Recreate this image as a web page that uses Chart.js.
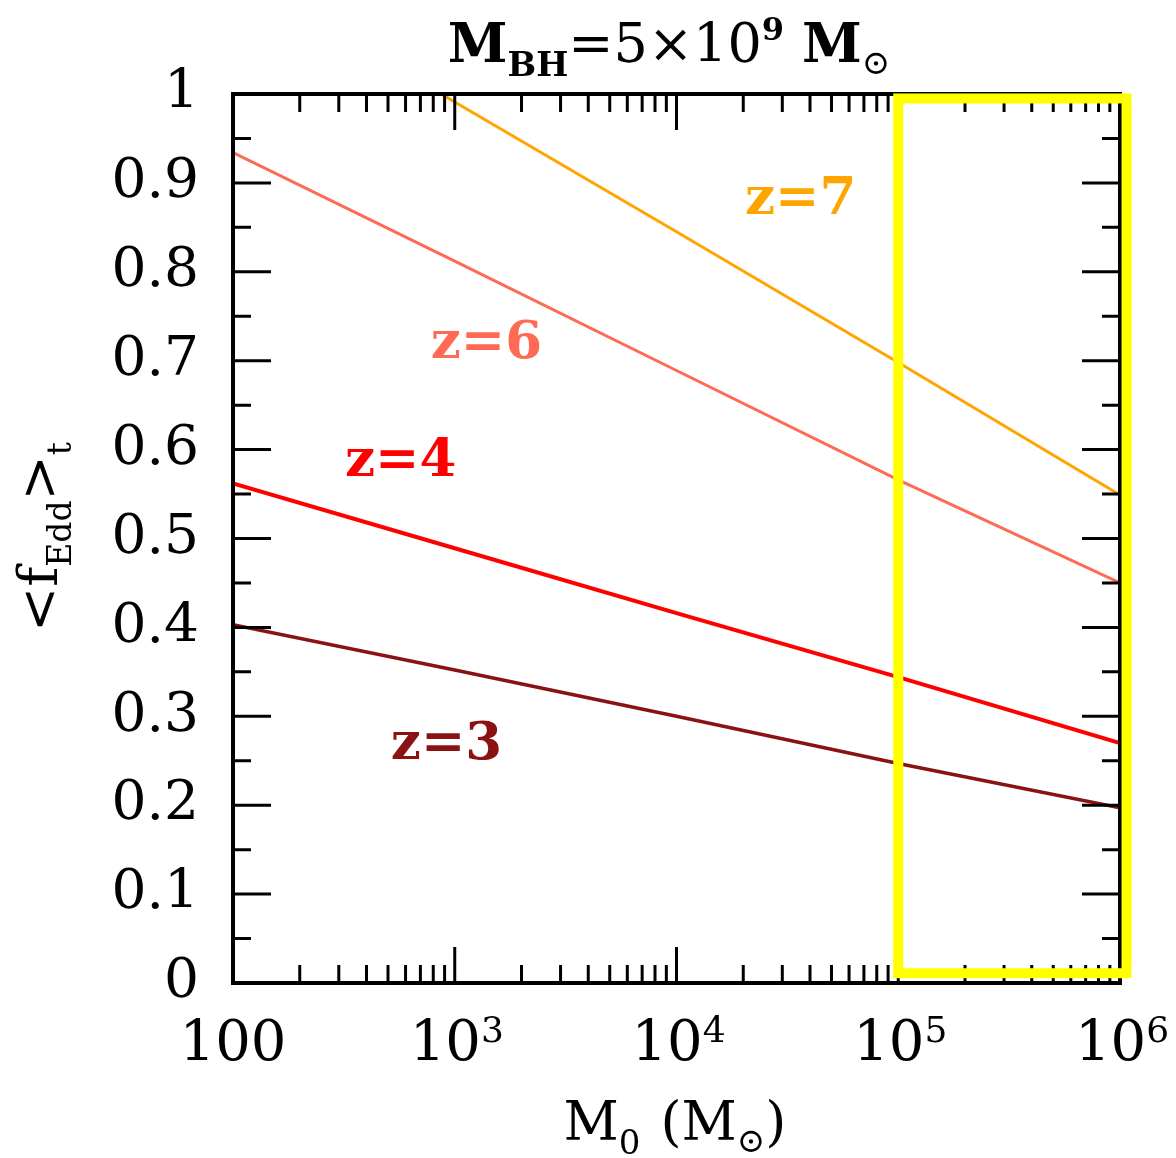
<!DOCTYPE html>
<html><head><meta charset="utf-8">
<script src="https://cdn.jsdelivr.net/npm/chart.js@4/dist/chart.umd.min.js"></script>
<style>html,body{margin:0;padding:0;background:#fff}#wrap{width:1176px;height:1158px}</style>
</head><body><div id="wrap"><canvas id="c" width="1176" height="1158"></canvas></div>
<script>
// ---- data ----
const massX = [100, 1000, 10000, 100000, 1000000];
const massX7 = [870, 1000, 10000, 100000, 1000000];
const fEdd_z7 = [1.0, 0.991, 0.845, 0.698, 0.549];
const fEdd_z6 = [0.934, 0.812, 0.689, 0.566, 0.450];
const fEdd_z4 = [0.562, 0.489, 0.416, 0.344, 0.270];
const fEdd_z3 = [0.403, 0.352, 0.300, 0.247, 0.197];
const seriesNames = ['z=7', 'z=6', 'z=4', 'z=3'];
const seriesColors = ['#FFA500', '#FF6A55', '#FF0000', '#8B1212'];
const labelPosX = [36300, 1390, 570, 918];
const labelPosY = [0.881, 0.718, 0.586, 0.268];
const yMajorTicks = [0, 0.1, 0.2, 0.3, 0.4, 0.5, 0.6, 0.7, 0.8, 0.9, 1];
const yMinorTicks = [0.05, 0.15, 0.25, 0.35, 0.45, 0.55, 0.65, 0.75, 0.85, 0.95];
const xMajorTicks = [100, 1000, 10000, 100000, 1000000];
const xTickExp = [null, '3', '4', '5', '6'];
const highlightBox = {x0: 100000, x1: 1070000, y0: 0.011, y1: 0.995};

const SERIF = '"DejaVu Serif", "Liberation Serif", serif';
const pts = (xs, ys) => xs.map((x, i) => ({x, y: ys[i]}));

function drawRich(ctx, parts, x, y, align) {
  let w = 0;
  parts.forEach(p => { ctx.font = (p.bold ? 'bold ' : '') + p.size + 'px ' + SERIF; p.w = ctx.measureText(p.t).width + (p.gap || 0); w += p.w; });
  let cx = align === 'center' ? x - w / 2 : x;
  ctx.textAlign = 'left'; ctx.textBaseline = 'alphabetic';
  parts.forEach(p => { ctx.font = (p.bold ? 'bold ' : '') + p.size + 'px ' + SERIF; ctx.fillText(p.t, cx, y + (p.dy || 0)); cx += p.w; });
}

const decor = {
  id: 'decor',
  afterDraw(chart) {
    const ctx = chart.ctx, xs = chart.scales.x, ys = chart.scales.y, a = chart.chartArea;
    ctx.save();
    ctx.fillStyle = '#000'; ctx.strokeStyle = '#000';
    ctx.lineWidth = 4;
    ctx.strokeRect(a.left, a.top, a.right - a.left, a.bottom - a.top);
    ctx.lineWidth = 3;
    const yt = (v, L) => { const p = ys.getPixelForValue(v); ctx.beginPath(); ctx.moveTo(a.left, p); ctx.lineTo(a.left + L, p); ctx.moveTo(a.right, p); ctx.lineTo(a.right - L, p); ctx.stroke(); };
    const xt = (v, L) => { const p = xs.getPixelForValue(v); ctx.beginPath(); ctx.moveTo(p, a.bottom); ctx.lineTo(p, a.bottom - L); ctx.moveTo(p, a.top); ctx.lineTo(p, a.top + L); ctx.stroke(); };
    yMajorTicks.forEach(v => yt(v, 38));
    yMinorTicks.forEach(v => yt(v, 18));
    xMajorTicks.forEach(v => xt(v, 36));
    xMajorTicks.slice(0, -1).forEach(d => { for (let k = 2; k <= 9; k++) xt(d * k, 18); });
    ctx.fillStyle = '#000';
    xMajorTicks.forEach((v, i) => {
      const p = xs.getPixelForValue(v);
      if (xTickExp[i] === null) drawRich(ctx, [{t: String(v), size: 56}], p, 1060, 'center');
      else drawRich(ctx, [{t: '10', size: 56}, {t: xTickExp[i], size: 36, dy: -18}], p + 2, 1060, 'center');
    });
    drawRich(ctx, [
      {t: 'M', size: 54, bold: true}, {t: 'BH', size: 34, bold: true, dy: 14},
      {t: '=5×10', size: 54}, {t: '9', size: 32, bold: true, dy: -22, gap: 18},
      {t: 'M', size: 54, bold: true}, {t: '⊙', size: 34, dy: 12}
    ], 669, 62, 'center');
    drawRich(ctx, [
      {t: 'M', size: 54}, {t: '0', size: 34, dy: 14, gap: 20},
      {t: '(M', size: 54}, {t: '⊙', size: 34, dy: 12}, {t: ')', size: 54}
    ], 675, 1140, 'center');
    ctx.save();
    ctx.translate(57, 537);
    ctx.rotate(-Math.PI / 2);
    drawRich(ctx, [
      {t: '<f', size: 54}, {t: 'Edd', size: 33, dy: 14},
      {t: '>', size: 54}, {t: 't', size: 33, dy: 14}
    ], 0, 0, 'center');
    ctx.restore();
    seriesNames.forEach((n, i) => {
      ctx.fillStyle = seriesColors[i];
      ctx.font = 'bold 53px ' + SERIF;
      ctx.textAlign = 'center'; ctx.textBaseline = 'middle';
      ctx.fillText(n, xs.getPixelForValue(labelPosX[i]), ys.getPixelForValue(labelPosY[i]));
    });
    ctx.strokeStyle = '#FFFF00'; ctx.lineWidth = 10;
    const bx0 = xs.getPixelForValue(highlightBox.x0), bx1 = xs.getPixelForValue(highlightBox.x1);
    const by0 = ys.getPixelForValue(highlightBox.y0), by1 = ys.getPixelForValue(highlightBox.y1);
    ctx.strokeRect(bx0, by1, bx1 - bx0, by0 - by1);
    ctx.restore();
  }
};

const mk = (label, xs, ys, color, w) => ({label, data: pts(xs, ys), borderColor: color, backgroundColor: color, borderWidth: w, pointRadius: 0, tension: 0, fill: false});

new Chart(document.getElementById('c'), {
  type: 'line',
  data: {datasets: [
    mk('z=7', massX7, fEdd_z7, seriesColors[0], 3),
    mk('z=6', massX, fEdd_z6, seriesColors[1], 3),
    mk('z=4', massX, fEdd_z4, seriesColors[2], 4),
    mk('z=3', massX, fEdd_z3, seriesColors[3], 3.5)
  ]},
  options: {
    responsive: false, animation: false, devicePixelRatio: 1,
    layout: {padding: {top: 94, right: 56, left: 0, bottom: 0}},
    plugins: {legend: {display: false}, tooltip: {enabled: false}, title: {display: false}},
    scales: {
      x: {type: 'logarithmic', min: 100, max: 1000000, position: 'bottom',
          grid: {display: false, drawTicks: false}, border: {display: false},
          ticks: {display: false},
          afterFit: s => { s.height = 175; }},
      y: {type: 'linear', min: 0, max: 1, position: 'left',
          grid: {display: false, drawTicks: false}, border: {display: false},
          ticks: {stepSize: 0.1, padding: 34, color: '#000', font: {family: SERIF, size: 55},
                  callback: v => (v === 0 ? '0' : v === 1 ? '1' : v.toFixed(1))},
          afterFit: s => { s.width = 233; }}
    }
  },
  plugins: [decor]
});
</script></body></html>
